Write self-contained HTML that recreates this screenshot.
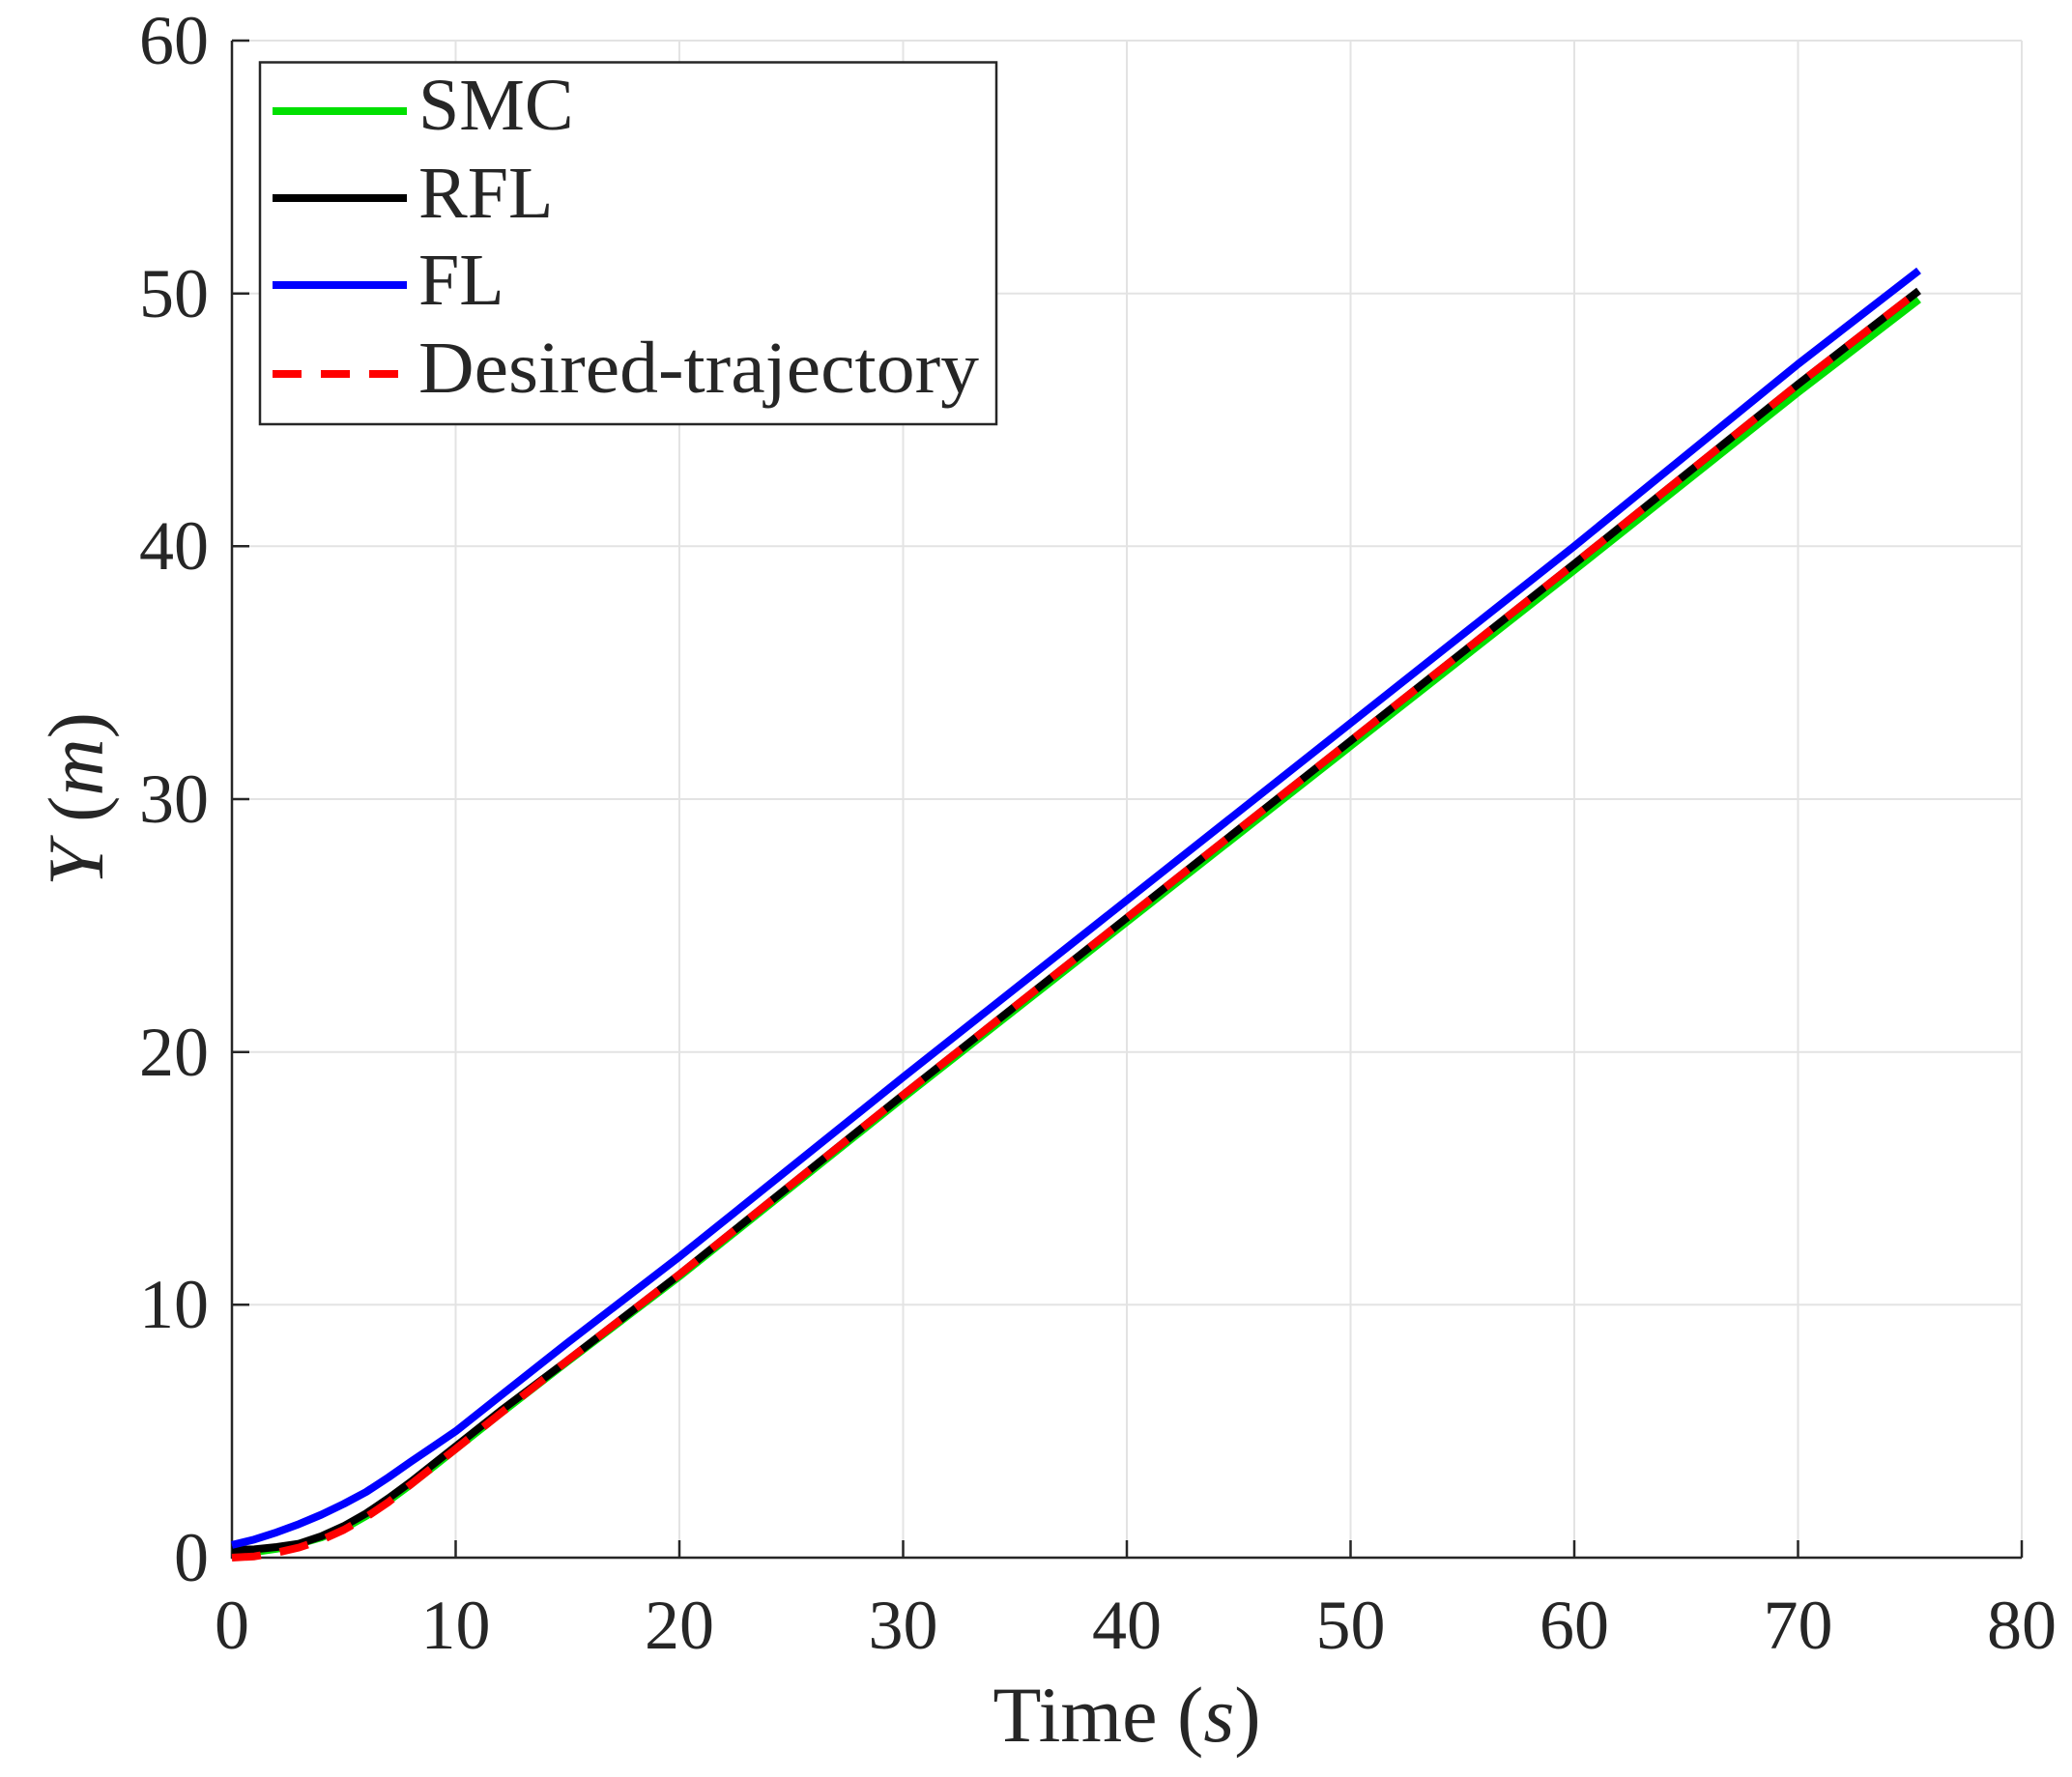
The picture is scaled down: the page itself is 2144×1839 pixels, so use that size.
<!DOCTYPE html>
<html><head><meta charset="utf-8"><style>
html,body{margin:0;padding:0;background:#fff;}
svg{display:block;}
text{font-family:"Liberation Serif",serif;fill:#262626;}
</style></head><body>
<svg width="2144" height="1839" viewBox="0 0 2144 1839" xmlns="http://www.w3.org/2000/svg">
<rect width="2144" height="1839" fill="#fff"/>
<g stroke="#e3e3e3" stroke-width="2">
<line x1="471.5" y1="42" x2="471.5" y2="1612"/>
<line x1="703" y1="42" x2="703" y2="1612"/>
<line x1="934.5" y1="42" x2="934.5" y2="1612"/>
<line x1="1166" y1="42" x2="1166" y2="1612"/>
<line x1="1397.5" y1="42" x2="1397.5" y2="1612"/>
<line x1="1629" y1="42" x2="1629" y2="1612"/>
<line x1="1860.5" y1="42" x2="1860.5" y2="1612"/>
<line x1="2092" y1="42" x2="2092" y2="1612"/>
<line x1="240" y1="42" x2="2092" y2="42"/>
<line x1="240" y1="303.7" x2="2092" y2="303.7"/>
<line x1="240" y1="565.3" x2="2092" y2="565.3"/>
<line x1="240" y1="827" x2="2092" y2="827"/>
<line x1="240" y1="1088.7" x2="2092" y2="1088.7"/>
<line x1="240" y1="1350.3" x2="2092" y2="1350.3"/>
</g>
<g stroke="#262626" stroke-width="2.5" fill="none">
<line x1="240" y1="42" x2="240" y2="1613"/>
<line x1="239" y1="1612" x2="2092" y2="1612"/>
<path d="M471.5 1612v-18M703 1612v-18M934.5 1612v-18M1166 1612v-18M1397.5 1612v-18M1629 1612v-18M1860.5 1612v-18M2092 1612v-18"/>
<path d="M240 42h18M240 303.7h18M240 565.3h18M240 827h18M240 1088.7h18M240 1350.3h18"/>
</g>
<g fill="none" stroke-width="8" stroke-linejoin="round" stroke-linecap="butt">
<polyline stroke="#00e000" points="240,1607 263.2,1606.2 286.3,1602.8 309.5,1597.6 332.6,1591 355.8,1581.9 378.9,1568.8 402.1,1553.1 425.2,1536.1 448.4,1517.8 471.5,1499.5 517.8,1462.8 587.3,1409 703,1321 934.5,1136 1166,954 1397.5,772 1629,590 1860.5,406 1985.5,310"/>
<polyline stroke="#000" points="240,1604 263.2,1603.4 286.3,1601 309.5,1597.6 332.6,1589.8 355.8,1579.3 378.9,1566.2 402.1,1550.5 425.2,1533.5 448.4,1515.2 471.5,1496.9 517.8,1460.2 587.3,1407.9 703,1318.9 934.5,1133.1 1166,949.9 1397.5,766.7 1629,583.5 1860.5,397.7 1985.5,300.9"/>
<polyline stroke="#0000ff" points="240,1598.9 263.2,1593.2 286.3,1585.8 309.5,1577.2 332.6,1567.5 355.8,1556.3 378.9,1544 402.1,1528.8 425.2,1512.6 448.4,1496.9 471.5,1481.2 517.8,1444.5 587.3,1389.6 703,1300.6 934.5,1114.8 1166,931.6 1397.5,748.4 1629,565.2 1860.5,376.8 1985.5,280"/>
<polyline stroke="#ff0000" stroke-dasharray="30 20" points="240,1612 263.2,1610.7 286.3,1606.8 309.5,1601.5 332.6,1593.7 355.8,1583.2 378.9,1570.1 402.1,1554.4 425.2,1536.1 448.4,1517.8 471.5,1499.5 517.8,1462.8 587.3,1407.9 703,1318.9 934.5,1133.1 1166,949.9 1397.5,766.7 1629,583.5 1860.5,397.7 1985.5,300.9"/>
</g>
<g font-size="72" text-anchor="end">
<text x="216" y="66">60</text>
<text x="216" y="328">50</text>
<text x="216" y="589">40</text>
<text x="216" y="851">30</text>
<text x="216" y="1113">20</text>
<text x="216" y="1374">10</text>
<text x="216" y="1636">0</text>
</g>
<g font-size="72" text-anchor="middle">
<text x="240" y="1706">0</text>
<text x="471.5" y="1706">10</text>
<text x="703" y="1706">20</text>
<text x="934.5" y="1706">30</text>
<text x="1166" y="1706">40</text>
<text x="1397.5" y="1706">50</text>
<text x="1629" y="1706">60</text>
<text x="1860.5" y="1706">70</text>
<text x="2092" y="1706">80</text>
</g>
<text x="1166" y="1802" font-size="82" text-anchor="middle">Time (<tspan font-style="italic">s</tspan>)</text>
<text transform="translate(106,827) rotate(-90)" font-size="82" text-anchor="middle"><tspan font-style="italic">Y</tspan> (<tspan font-style="italic">m</tspan>)</text>
<rect x="269" y="64.5" width="762" height="374.5" fill="#fff" stroke="#262626" stroke-width="2.5"/>
<g stroke-width="8">
<line x1="282" y1="115" x2="421" y2="115" stroke="#00e000"/>
<line x1="282" y1="205" x2="421" y2="205" stroke="#000"/>
<line x1="282" y1="295" x2="421" y2="295" stroke="#0000ff"/>
<line x1="282" y1="387" x2="421" y2="387" stroke="#ff0000" stroke-dasharray="30 20"/>
</g>
<g font-size="76">
<text x="433" y="134">SMC</text>
<text x="433" y="225">RFL</text>
<text x="433" y="315">FL</text>
<text x="433" y="406" textLength="580" lengthAdjust="spacingAndGlyphs">Desired-trajectory</text>
</g>
</svg>
</body></html>
